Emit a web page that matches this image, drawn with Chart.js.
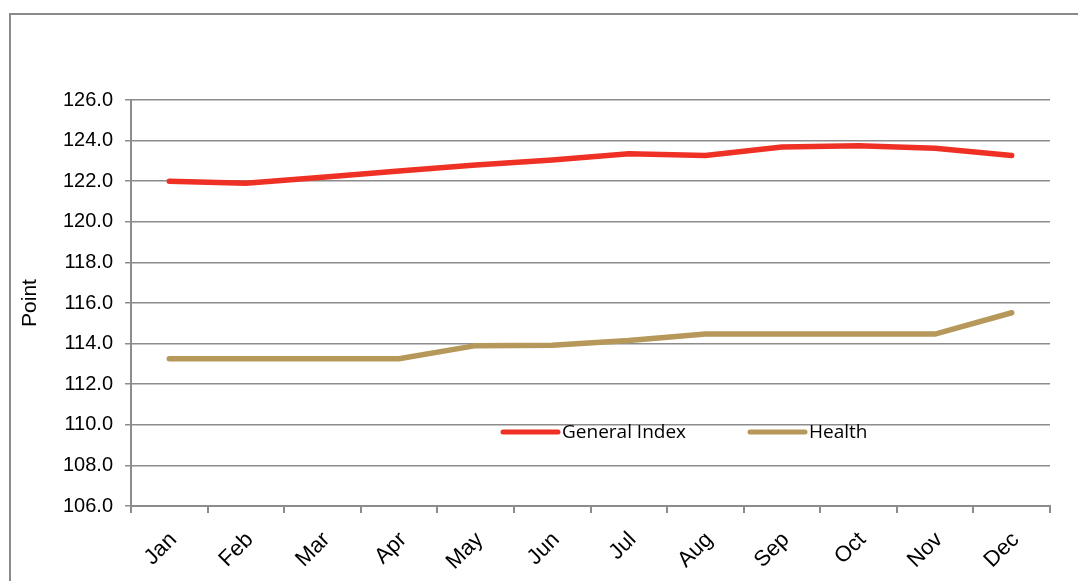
<!DOCTYPE html>
<html>
<head>
<meta charset="utf-8">
<script src="https://cdn.jsdelivr.net/npm/chart.js@4/dist/chart.umd.min.js"></script>
<style>
  body { margin: 0; background: #fff; }
  #wrap { position: relative; width: 1078px; height: 581px; overflow: hidden; }
  #frame { position: absolute; left: 9px; top: 13px; width: 2000px; height: 2000px; border: 2px solid #8a8a8a; }
  #chart { position: absolute; left: 0; top: 0; }
</style>
</head>
<body>
<div id="wrap">
  <div id="frame"></div>
  <canvas id="chart" width="1078" height="581"></canvas>
</div>
<script>
// monthly index values
const months = ['Jan', 'Feb', 'Mar', 'Apr', 'May', 'Jun', 'Jul', 'Aug', 'Sep', 'Oct', 'Nov', 'Dec'];
const generalIndex = [122.0, 121.9, 122.2, 122.5, 122.8, 123.05, 123.35, 123.27, 123.68, 123.75, 123.62, 123.27];
const health = [113.25, 113.25, 113.25, 113.25, 113.9, 113.92, 114.15, 114.47, 114.47, 114.47, 114.47, 115.52];
const yTicks = [106, 108, 110, 112, 114, 116, 118, 120, 122, 124, 126];

const gridGray = '#8c8c8c';

// legend drawn inside the plot area, like the original
const innerLegend = {
  id: 'innerLegend',
  afterDatasetsDraw(chart) {
    const ctx = chart.ctx;
    const y = chart.scales.y.getPixelForValue(109.65);
    const starts = [503, 750];
    ctx.save();
    chart.data.datasets.forEach(function (ds, i) {
      const x = starts[i];
      ctx.strokeStyle = ds.borderColor;
      ctx.lineWidth = 5;
      ctx.lineCap = 'round';
      ctx.beginPath();
      ctx.moveTo(x, y);
      ctx.lineTo(x + 55, y);
      ctx.stroke();
      ctx.fillStyle = '#000';
      ctx.font = '19px "Open Sans"';
      ctx.textBaseline = 'middle';
      ctx.fillText(ds.label, x + 59, y + 1);
    });
    ctx.restore();
  }
};

new Chart(document.getElementById('chart'), {
  type: 'line',
  data: {
    labels: months,
    datasets: [{
      label: 'General Index',
      data: generalIndex,
      borderColor: '#ee3124',
      borderWidth: 5.5,
      borderCapStyle: 'round',
      pointRadius: 0,
      tension: 0
    }, {
      label: 'Health',
      data: health,
      borderColor: '#b5985a',
      borderWidth: 5.5,
      borderCapStyle: 'round',
      pointRadius: 0,
      tension: 0
    }]
  },
  options: {
    responsive: false,
    animation: false,
    layout: { padding: { top: 100, right: 28, left: 0, bottom: 0 } },
    plugins: {
      legend: { display: false },
      tooltip: { enabled: false }
    },
    scales: {
      x: {
        offset: true,
        afterFit: function (s) { s.height = 75; },
        grid: {
          offset: true,
          drawOnChartArea: false,
          tickLength: 7,
          color: gridGray,
          lineWidth: 2
        },
        border: { color: gridGray, width: 2 },
        ticks: {
          minRotation: 45,
          maxRotation: 45,
          padding: 14,
          labelOffset: 4,
          color: '#000',
          font: { family: 'Liberation Sans', size: 22 }
        }
      },
      y: {
        min: 106,
        max: 126,
        afterFit: function (s) { s.width = 131; },
        afterBuildTicks: function (s) { s.ticks = yTicks.map(v => ({ value: v })); },
        grid: { color: gridGray, lineWidth: 1.5, tickLength: 6 },
        border: { color: gridGray, width: 2 },
        ticks: {
          padding: 12,
          color: '#000',
          font: { family: 'Liberation Sans', size: 20 },
          callback: v => v.toFixed(1)
        },
        title: {
          display: true,
          text: 'Point',
          color: '#000',
          font: { family: 'Liberation Sans', size: 21 },
          padding: { top: 18 }
        }
      }
    }
  },
  plugins: [innerLegend]
});
</script>
</body>
</html>
